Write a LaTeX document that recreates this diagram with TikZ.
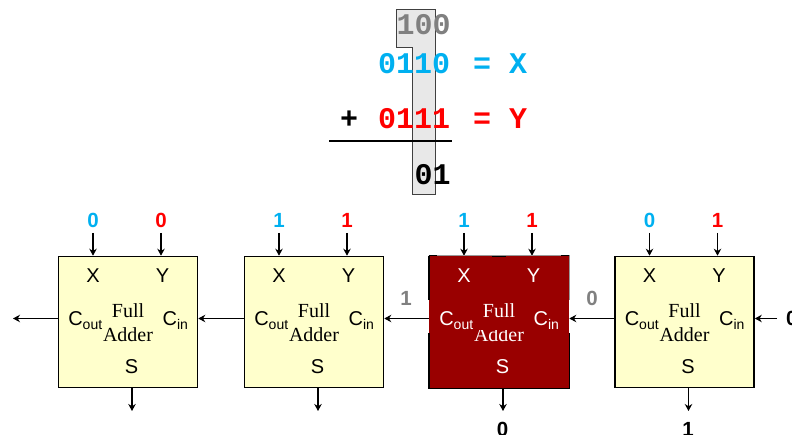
\documentclass[tikz,border=0pt]{standalone}
\usepackage{fontspec}
\setmainfont{Liberation Sans}
\newfontfamily\serifface{Liberation Serif}
\newfontfamily\monoface{Liberation Mono}
\usetikzlibrary{arrows.meta}
\definecolor{xblue}{HTML}{00B0F0}
\definecolor{yred}{HTML}{FF0000}
\definecolor{carrygray}{HTML}{808080}
\definecolor{adderfill}{HTML}{FFFFCC}
\definecolor{activefill}{HTML}{990000}
\tikzset{
  adder/.style={draw=black, line width=1.6pt, fill=adderfill, minimum width=139pt, minimum height=131pt, inner sep=0pt},
  active/.style={adder, fill=activefill, draw=activefill},
  port/.style={font=\fontsize{20}{20}\selectfont, inner sep=0pt},
  title/.style={font=\serifface\fontsize{20}{24}\selectfont, align=center, inner sep=0pt},
  bit/.style={font=\fontsize{20.5}{20.5}\selectfont\bfseries, inner sep=0pt},
  sum/.style={font=\monoface\bfseries\fontsize{30}{30}\selectfont, inner sep=0pt, anchor=base west},
  wire/.style={-{Stealth[length=7pt,width=7.5pt]}, line width=1.5pt},
}
\newcommand{\addercell}[6]{%
  % name, x, style, text colour, X bit, Y bit
  \node[#3] (#1) at (#2,322) {};
  \node[port, text=#4] (#1x) at (#2-35,276) {X};
  \node[port, text=#4] (#1y) at (#2+34.5,276) {Y};
  \node[port, text=#4] (#1s) at (#2+3.5,367) {S};
  \node[port, text=#4, anchor=base] (#1co) at (#2-42.5,326) {C\textsubscript{out}};
  \node[port, text=#4, anchor=base] (#1ci) at (#2+47.5,326) {C\textsubscript{in}};
  \node[title, text=#4] (#1t) at (#2,323) {Full\\Adder};
  \node[bit, text=xblue] (#1a) at (#2-35,220) {#5};
  \node[bit, text=yred] (#1b) at (#2+33,220) {#6};
  \coordinate (#1ain) at (#2-35,233);
  \coordinate (#1bin) at (#2+33,233);
  \coordinate (#1sout) at (#2+4,411);
  \draw[wire] (#1ain) -- (#1ain |- #1.north);
  \draw[wire] (#1bin) -- (#1bin |- #1.north);
  \draw[wire] (#1sout |- #1.south) -- (#1sout);
}
\begin{document}
\begin{tikzpicture}[x=1pt,y=-1pt]
  \useasboundingbox (0,0) rectangle (792,435);
  % column being added
  \draw[fill=black!9, line width=1pt, draw=black!75] (396.5,9.5) -- (435.3,9.5) -- (435.3,195) -- (412.3,195) -- (412.3,48) -- (396.5,48) -- cycle;
  \node[sum, text=carrygray] (carry) at (396.5,35) {100};
  \node[sum, text=xblue] (xrow) at (378,73.5) {0110};
  \node[sum, text=xblue] (xname) at (473,73.5) {= X};
  \node[sum, text=yred] (yrow) at (378,129) {0111};
  \node[sum, text=yred] (yname) at (473,129) {= Y};
  \node[sum] (plus) at (340,129) {+};
  \node[sum] (result) at (414.5,185) {01};
  \coordinate (rulea) at (329,141);
  \coordinate (ruleb) at (452,141);
  \draw[line width=2pt] (rulea) -- (ruleb);
  % the four cells
  \addercell{addera}{128}{adder}{black}{0}{0}
  \addercell{adderb}{314}{adder}{black}{1}{1}
  \addercell{adderc}{499}{active}{white}{1}{1}
  \addercell{adderd}{684.5}{adder}{black}{0}{1}
  % worn edges of the active cell
  \fill[activefill] (474.5,320.5) rectangle (527,330.5);
  \draw[line width=1.2pt, draw=black!40] (adderc.north west) -- (adderc.north east) -- (adderc.east |- 0,300);
  \draw[line width=1.6pt] (adderc.north west) -- ++(8,0) (492,256.5) -- (506,256.5) (adderc.north east) -- ++(-8,0);
  \draw[line width=1.6pt] (adderc.west |- 0,300) -- (adderc.north west);
  \draw[line width=1.6pt] (adderc.west |- 0,333) -- (adderc.south west) -- (adderc.south east) -- (adderc.east |- 0,333);
  % carries
  \coordinate (cout) at (13,318.5);
  \coordinate (cin) at (777,318.5);
  \draw[wire] (addera.west |- cout) -- (cout);
  \draw[wire] (adderb.west |- cout) -- (addera.east |- cout);
  \draw[wire] (adderc.west |- cout) -- (adderb.east |- cout);
  \draw[wire] (adderd.west |- cout) -- (adderc.east |- cout);
  \draw[wire] (cin) -- (adderd.east |- cout);
  \node[bit, text=carrygray] (carryb) at (406,298) {1};
  \node[bit, text=carrygray] (carryc) at (592,298) {0};
  \node[bit, anchor=west] (carryd) at (786,318) {0};
  \node[bit] (sumc) at (502.5,429) {0};
  \node[bit] (sumd) at (688,429) {1};
\end{tikzpicture}
\end{document}
